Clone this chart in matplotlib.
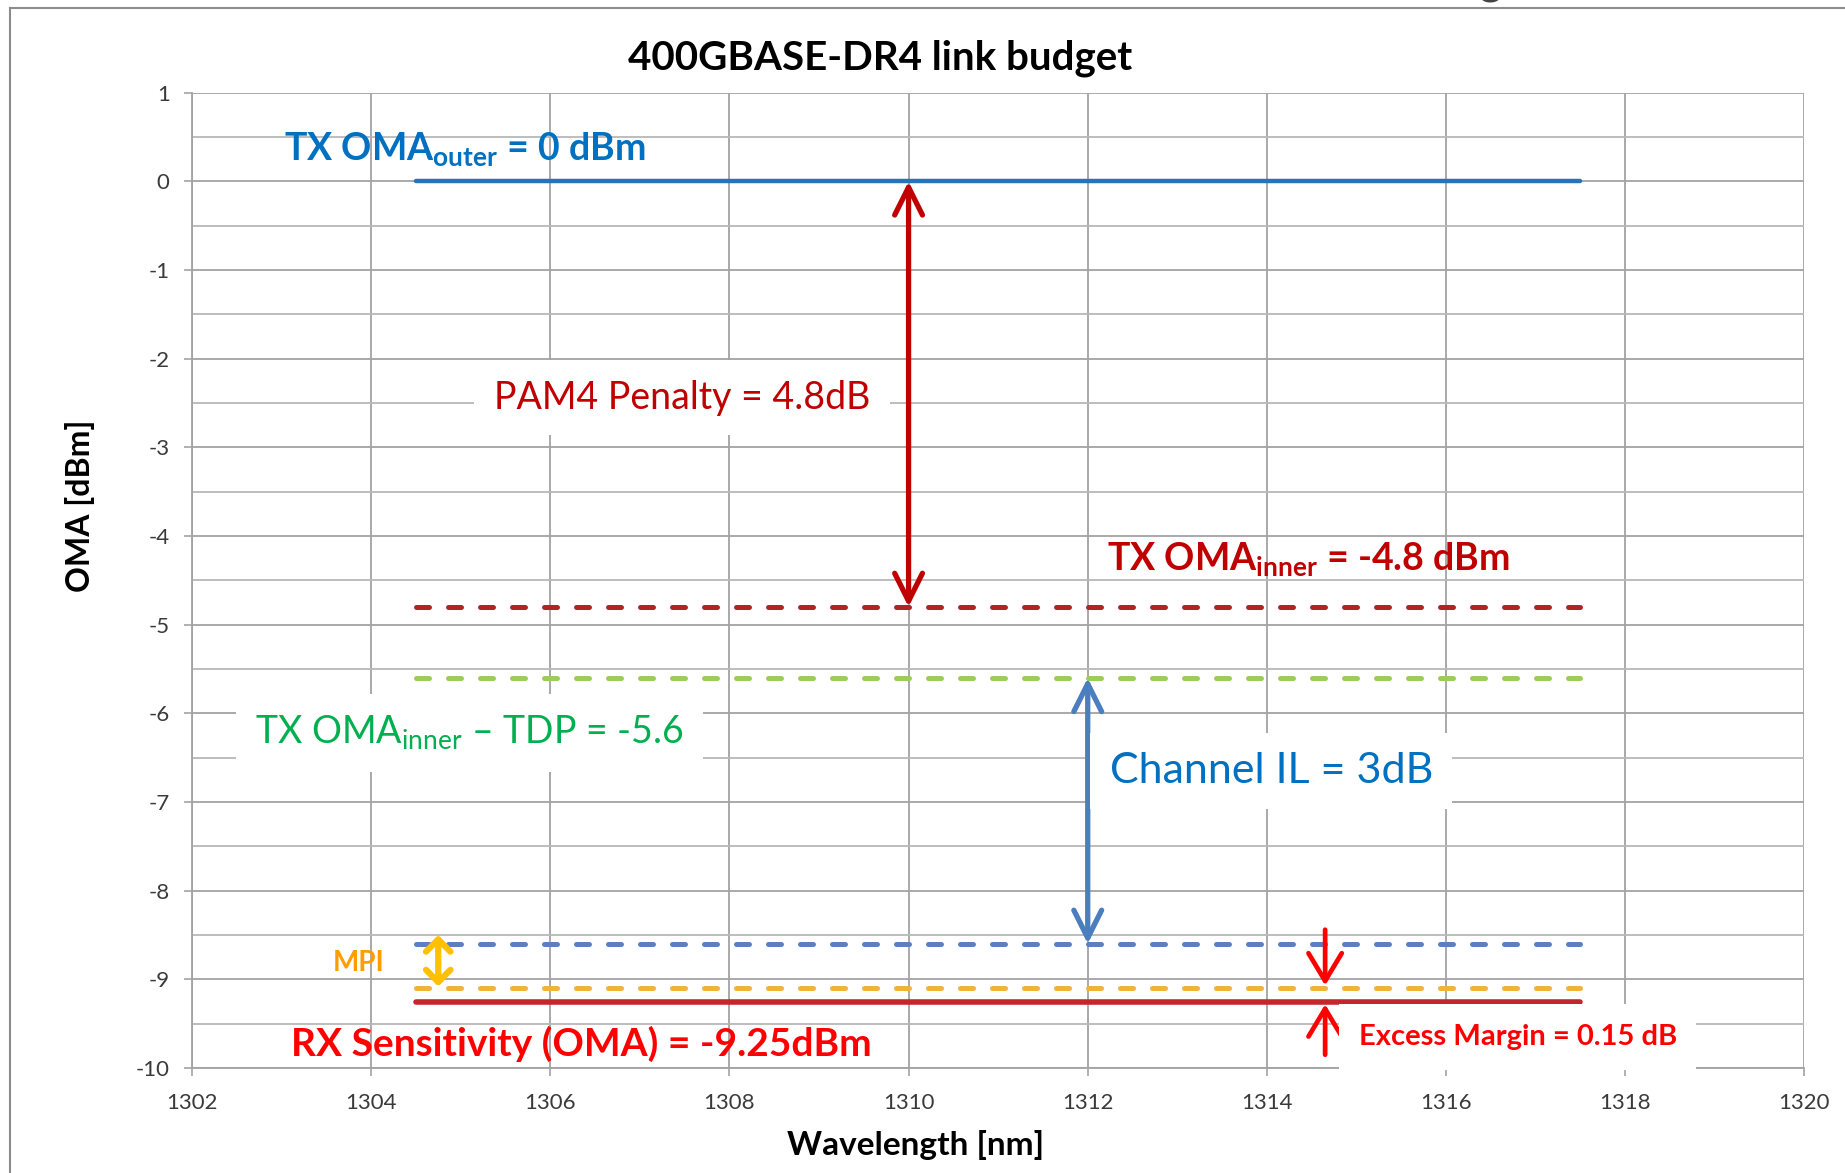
import numpy as np
import matplotlib
matplotlib.use("Agg")
import matplotlib.pyplot as plt
from matplotlib.lines import Line2D

plt.rcParams['font.family'] = ['Lato', 'DejaVu Sans']
plt.rcParams['mathtext.fontset'] = 'custom'
plt.rcParams['mathtext.rm'] = 'Lato'
plt.rcParams['mathtext.bf'] = 'Lato:bold'

# data
x_ticks = [1302, 1304, 1306, 1308, 1310, 1312, 1314, 1316, 1318, 1320]
y_ticks = [1, 0, -1, -2, -3, -4, -5, -6, -7, -8, -9, -10]
x_start, x_end = 1304.5, 1317.5

lvl_tx_outer = 0.0
lvl_tx_inner = -4.8
lvl_tdp = -5.6
lvl_channel = -8.6
lvl_mpi = -9.1
lvl_rx = -9.25

pam4_arrow = (1310.0, 0.0, -4.8)
chan_arrow = (1312.0, -5.6, -8.6)
mpi_arrow = (1304.75, -8.5, -9.08)
excess_down = (1314.65, -8.44, -9.07)
excess_up = (1314.65, -9.85, -9.28)

fig = plt.figure(figsize=(18.45, 11.73), dpi=100)
ax = fig.add_axes([0.104, 0.0895, 0.874, 0.8315])

# outer frame of the slide picture
fig.add_artist(Line2D([0.0054, 0.0054], [0, 0.9932], color='#8c8c8c', lw=1.5))
fig.add_artist(Line2D([0.0054, 1.0], [0.9932, 0.9932], color='#8c8c8c', lw=1.5))
fig.text(0.802, 0.998, 'g', fontsize=30, fontweight='bold', color='#444444', va='bottom')

ax.set_xlim(1302, 1320)
ax.set_ylim(-10, 1)
ax.set_xticks(x_ticks)
ax.set_yticks(y_ticks)
ax.set_yticks(np.arange(-9.5, 1, 1.0), minor=True)
ax.grid(which='major', color='#a3a3a3', lw=1.3)
ax.grid(which='minor', axis='y', color='#b8b8b8', lw=1.3)
ax.tick_params(which='minor', length=0)
ax.tick_params(which='major', length=6, width=1.2, color='#a3a3a3',
               labelsize=16, labelcolor='#3a3a3a')
ax.tick_params(axis='x', pad=12)
ax.tick_params(axis='y', pad=10)
ax.yaxis.set_major_formatter(matplotlib.ticker.FuncFormatter(lambda v, p: '%d' % v))
for s in ['top', 'right']:
    ax.spines[s].set_visible(False)
for s in ['left', 'bottom']:
    ax.spines[s].set_color('#a3a3a3')
    ax.spines[s].set_linewidth(1.3)
ax.set_axisbelow(True)

fig.text(0.496, 0.024, 'Wavelength [nm]', fontsize=24, fontweight='bold',
         ha='center', va='center')
fig.text(0.0434, 0.569, 'OMA [dBm]', fontsize=23, fontweight='bold',
         ha='center', va='center', rotation=90)
fig.text(0.477, 0.95, '400GBASE-DR4 link budget', fontsize=29, fontweight='bold',
         ha='center', va='center')

xs = [x_start, x_end]
dash = dict(dashes=(2.6, 3.8), dash_capstyle='round', lw=3.6)
ax.plot(xs, [lvl_tx_outer] * 2, color='#2a72b8', lw=3.2, solid_capstyle='round')
ax.plot(xs, [lvl_tx_inner] * 2, color='#b0232a', **dash)
ax.plot(xs, [lvl_tdp] * 2, color='#9acd5a', **dash)
ax.plot(xs, [lvl_channel] * 2, color='#5b80c0', **dash)
ax.plot(xs, [lvl_mpi] * 2, color='#eeb43a', **dash)
ax.plot(xs, [lvl_rx] * 2, color='#c4262e', lw=4.0, solid_capstyle='round')

def arrow(x, y0, y1, color, style, lw, scale):
    ax.annotate('', xy=(x, y1), xytext=(x, y0),
                arrowprops=dict(arrowstyle=style, color=color, lw=lw,
                                mutation_scale=scale, shrinkA=0, shrinkB=0))

arrow(pam4_arrow[0], pam4_arrow[2], pam4_arrow[1], '#c00000',
      '<->,head_length=0.5,head_width=0.25', 3.8, 40)
arrow(chan_arrow[0], chan_arrow[2], chan_arrow[1], '#4a7ebf',
      '<->,head_length=0.5,head_width=0.25', 3.8, 40)
arrow(mpi_arrow[0], mpi_arrow[2], mpi_arrow[1], '#ffc000',
      '<->,head_length=0.4,head_width=0.4', 4.5, 22)
arrow(excess_down[0], excess_down[1], excess_down[2], '#ff0000',
      '->,head_length=0.5,head_width=0.3', 3.4, 40)
arrow(excess_up[0], excess_up[1], excess_up[2], '#ff0000',
      '->,head_length=0.5,head_width=0.3', 3.4, 40)

white = dict(facecolor='white', edgecolor='none', pad=14)

ax.text(1303.03, 0.36, r'TX OMA$_{\mathbf{outer}}$ = 0 dBm', color='#0070c0',
        fontsize=27, fontweight='bold', va='center', ha='left')
ax.text(1307.47, -2.44, 'PAM4 Penalty = 4.8dB', color='#c00000',
        fontsize=27, va='center', ha='center', bbox=white)
ax.text(1312.22, -4.27, r'TX OMA$_{\mathbf{inner}}$ = -4.8 dBm', color='#c00000',
        fontsize=27, fontweight='bold', va='center', ha='left')
ax.text(1305.1, -6.22, r'TX OMA$_{\mathrm{inner}}$ – TDP = -5.6', color='#00b050',
        fontsize=27, va='center', ha='center', bbox=white)
ax.text(1314.05, -6.65, 'Channel IL = 3dB', color='#0070c0',
        fontsize=31, va='center', ha='center', bbox=white)
ax.text(1303.86, -8.81, 'MPI', color='#ff9c00', fontsize=20, fontweight='bold',
        va='center', ha='center')
ax.text(1306.35, -9.73, 'RX Sensitivity (OMA) = -9.25dBm', color='#ff0000',
        fontsize=28, fontweight='bold', va='center', ha='center')
ax.text(1316.8, -9.65, 'Excess Margin = 0.15 dB', color='#ff0000',
        fontsize=21, fontweight='bold', va='center', ha='center', bbox=white)

fig.savefig('out.png', dpi=100)
